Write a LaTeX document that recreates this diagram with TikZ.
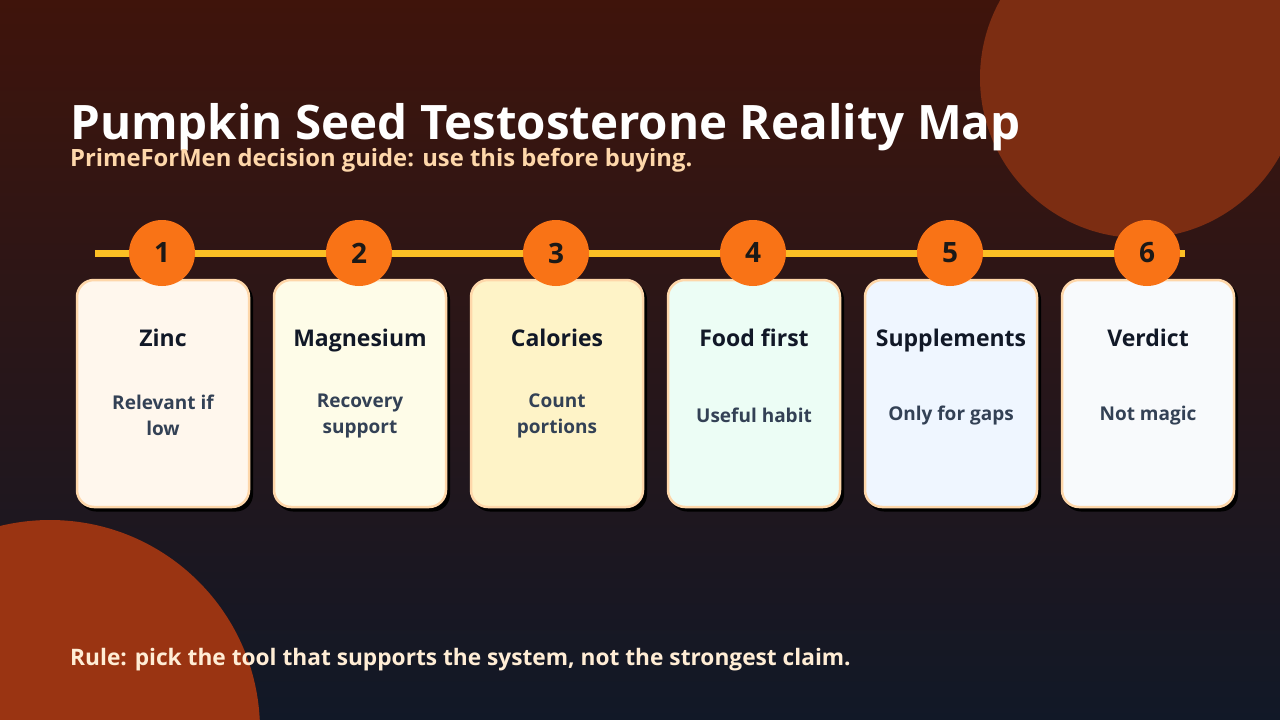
\documentclass[tikz,border=0pt]{standalone}
\usepackage{fontspec}
\setmainfont{Open Sans}
\usetikzlibrary{shapes.geometric}
\definecolor{bgtop}{RGB}{63,20,11}
\definecolor{bgbot}{RGB}{17,24,39}
\definecolor{blobA}{RGB}{124,45,18}
\definecolor{blobB}{RGB}{154,52,18}
\definecolor{peach}{RGB}{254,215,170}
\definecolor{peachlt}{RGB}{255,237,213}
\definecolor{amber}{RGB}{251,191,36}
\definecolor{orng}{RGB}{249,115,22}
\definecolor{ink}{RGB}{17,24,39}
\definecolor{slate}{RGB}{51,65,85}
\definecolor{numink}{RGB}{28,25,23}
\definecolor{cA}{RGB}{255,247,237}
\definecolor{cB}{RGB}{254,252,232}
\definecolor{cC}{RGB}{254,243,199}
\definecolor{cD}{RGB}{236,253,245}
\definecolor{cE}{RGB}{239,246,255}
\definecolor{cF}{RGB}{248,250,252}
\tikzset{
  card/.style={draw=peach, line width=2.5pt, rounded corners=17pt, minimum width=172pt, minimum height=227pt, inner sep=0pt},
  cardshadow/.style={fill=black, rounded corners=17pt, minimum width=174pt, minimum height=229pt, inner sep=0pt},
  numdot/.style={circle, fill=orng, minimum size=66pt, inner sep=0pt, font=\fontsize{28}{28}\selectfont\bfseries, text=numink},
  ctitle/.style={anchor=base, inner sep=0pt, font=\fontsize{23}{23}\selectfont\bfseries, text=ink, align=center},
  cbody/.style={font=\fontsize{19}{26}\selectfont\bfseries, text=slate, align=center},
}
\begin{document}
\begin{tikzpicture}[x=1pt,y=-1pt]
\useasboundingbox (0,0) rectangle (1280,720);
\shade[top color=bgtop, bottom color=bgbot] (0,0) rectangle (1280,720);
\fill[blobA] (1140,78) circle (160);
\fill[blobB] (50,730) circle (210);
\node[anchor=base west, text=white, font=\fontsize{47.5}{47.5}\selectfont\bfseries, inner sep=0pt] (title) at (70,139) {Pumpkin Seed Testosterone Reality Map};
\node[anchor=base west, text=peach, font=\fontsize{23.8}{23.8}\selectfont\bfseries, inner sep=0pt] (sub) at (70,166) {PrimeForMen decision guide: use this before buying.};
\coordinate (tlA) at (95,253);
\coordinate (tlB) at (1185,253);
\draw[amber, line width=7pt] (tlA) -- (tlB);
\foreach \i/\x/\c/\t/\b in {1/163/cA/Zinc/{Relevant if\\low},2/360/cB/Magnesium/{Recovery\\support},3/557/cC/Calories/{Count\\portions},4/754/cD/Food first/{Useful habit},5/951/cE/Supplements/{Only for gaps},6/1148/cF/Verdict/{Not magic}}{
  \node[cardshadow] (s\i) at (\x+3,397) {};
  \node[card, fill=\c] (card\i) at (\x,393.5) {};
  \node[numdot] (n\i) at (\x-1,253) {\i};
  \node[ctitle] (t\i) at (\x,346) {\t};
  \node[cbody] (b\i) at (\x,415.5) {\b};
}
\node[anchor=base west, text=peachlt, font=\fontsize{22.7}{22.7}\selectfont\bfseries, inner sep=0pt] (rule) at (70,665) {Rule: pick the tool that supports the system, not the strongest claim.};
\end{tikzpicture}
\end{document}
